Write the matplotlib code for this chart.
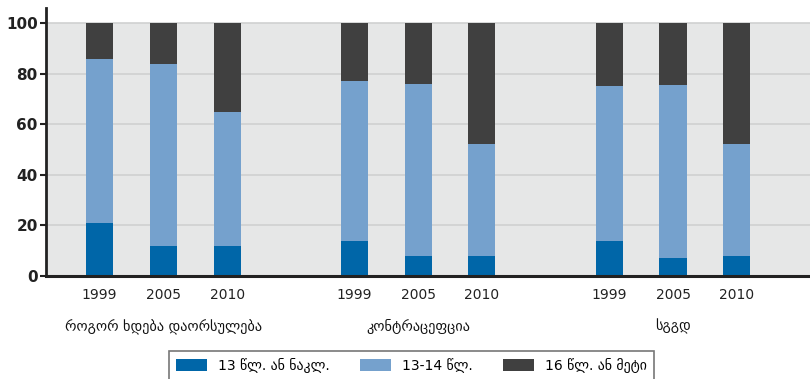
import numpy as np
import matplotlib.pyplot as plt
from matplotlib.patches import Patch

groups = ["როგორ ხდება დაორსულება", "კონტრაცეფცია", "სგგდ"]
years = ["1999", "2005", "2010"]
series_names = ["13 წლ. ან ნაკლ.", "13-14 წლ.", "16 წლ. ან მეტი"]

# one value per bar, group by group (1999, 2005, 2010)
low = [21, 12, 12, 14, 8, 8, 14, 7, 8]
mid = [65, 72, 53, 63, 68, 44, 61, 68.5, 44]
high = [14, 16, 35, 23, 24, 48, 25, 24.5, 48]

colors = ["#0066a8", "#75a1cd", "#404040"]

x = np.array([g * 4 + j for g in range(len(groups)) for j in range(len(years))])

fig = plt.figure(figsize=(8.1, 3.79), dpi=100)
ax = fig.add_axes([0.057, 0.272, 0.943, 0.707])
ax.set_facecolor("white")
ax.axhspan(0, 100, color="#e6e7e7", zorder=0, lw=0)

w = 0.425
ax.bar(x, low, w, color=colors[0], zorder=3)
ax.bar(x, mid, w, bottom=low, color=colors[1], zorder=3)
ax.bar(x, high, w, bottom=np.array(low) + np.array(mid), color=colors[2], zorder=3)

for yv in [20, 40, 60, 80, 100]:
    ax.axhline(yv, color="#d0d1d1", lw=1.2, zorder=1)

ax.set_ylim(0, 106)
ax.set_xlim(-0.84, 11.15)
ax.set_yticks([0, 20, 40, 60, 80, 100])
ax.set_yticklabels(["0", "20", "40", "60", "80", "100"], fontsize=11, fontweight="bold", color="#222222")
ax.tick_params(axis="y", length=4, width=1.5, color="#222222", pad=2)
ax.set_xticks([])

for s in ["top", "right"]:
    ax.spines[s].set_visible(False)
ax.spines["left"].set_linewidth(2)
ax.spines["left"].set_color("#222222")
ax.spines["bottom"].set_linewidth(2.2)
ax.spines["bottom"].set_color("#222222")
ax.spines["left"].set_zorder(5)
ax.spines["bottom"].set_zorder(5)

trans = ax.get_xaxis_transform()
for i, xi in enumerate(x):
    ax.text(xi, -0.07, years[i % 3], transform=trans, ha="center", va="center",
            fontsize=10, color="#222222")
for g, name in enumerate(groups):
    ax.text(g * 4 + 1, -0.19, name, transform=trans, ha="center", va="center",
            fontsize=10.3, color="#111111")

handles = [Patch(facecolor=c, edgecolor="none") for c in colors]
leg = fig.legend(handles, series_names, loc="upper center", bbox_to_anchor=(0.508, 0.092),
                 ncol=3, frameon=True, fancybox=False, fontsize=10, handlelength=2.2,
                 handleheight=1.0, columnspacing=2.2, handletextpad=0.8, borderpad=0.5)
leg.get_frame().set_edgecolor("#555555")
leg.get_frame().set_linewidth(1.2)

fig.savefig("out.png", dpi=100, facecolor="white")
